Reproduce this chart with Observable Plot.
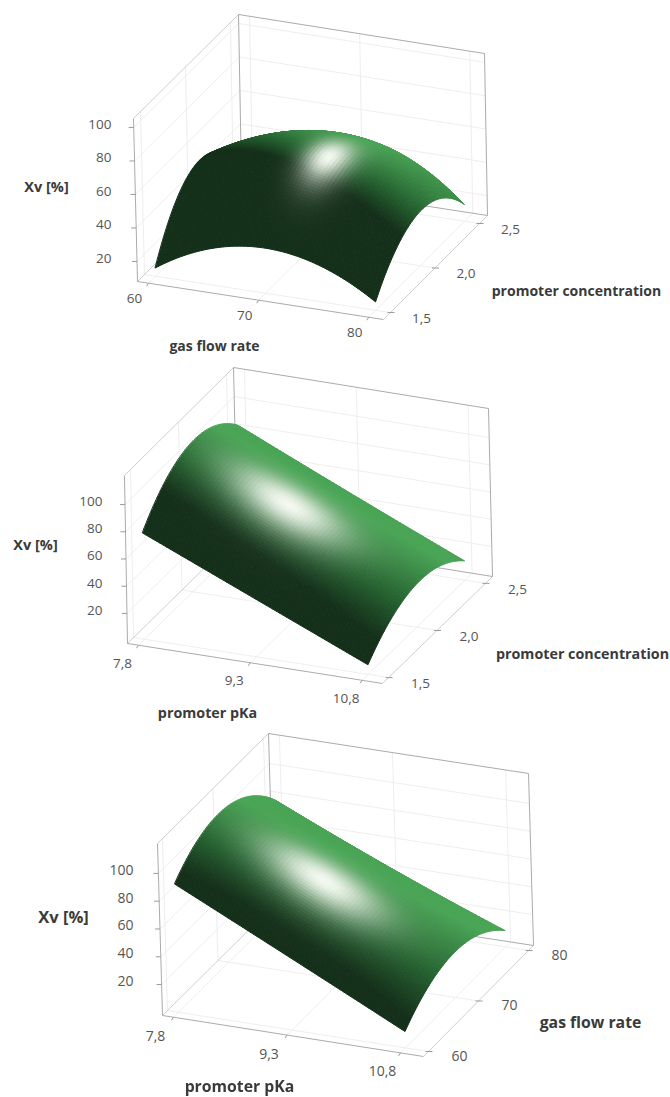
<!DOCTYPE html>
<html><head><meta charset="utf-8">
<script src="https://cdn.jsdelivr.net/npm/d3@7"></script>
<script src="https://cdn.jsdelivr.net/npm/@observablehq/plot@0.6"></script>
<style>html,body{margin:0;padding:0;background:#fff}svg{display:block;filter:blur(.3px)}</style>
</head><body><div id="chart"></div>
<script>
// ---- values ----
const gasFlowTicks = [60, 70, 80];
const concTicks = [1.5, 2.0, 2.5];
const pkaTicks = [7.8, 9.3, 10.8];
const xvTicks = [20, 40, 60, 80, 100];
const gasFlowLabels = ["60", "70", "80"];
const concLabels = ["1,5", "2,0", "2,5"];
const pkaLabels = ["7,8", "9,3", "10,8"];
// Xv [%] at the three levels of each factor: rows = depth axis, columns = front axis
const surfaceGasConc = [[13, 35, 13], [50, 66, 40], [17, 48, 18]];
const surfacePkaConc = [[76, 40.5, 5], [106, 68, 29], [85, 48, 12]];
const surfacePkaGas = [[90, 50, 9.5], [108, 71, 30], [78, 42, 9.5]];

// ---- view set-up of each cube ----
const views = [
 {aTicks: gasFlowTicks, bTicks: concTicks, aLabels: gasFlowLabels, bLabels: concLabels, surface: surfaceGasConc,
  aTitle: "gas flow rate", bTitle: "promoter concentration",
  box: {FBL:[137,281],FBR:[383,319],BBL:[241,177],BBR:[487,215],FTL:[133,118],FTR:[380,156],BTL:[238,14],BTR:[484,53]},
  aFrac:[.045,.94], bFrac:[.067,.923], zFrac:[.123,.945],
  aOff:[-14,15], bOff:[31,6], zLabelX:111, zOff:-3, zTick:5,
  xvAt:[46,187], aAt:[214,346], bAt:[576,291], xvSize:14.5, titleSize:14, tickSize:13.5,
  highlight:[328,157], sigmaD:.112, sigmaU:.06, lift:-.05},
 {aTicks: pkaTicks, bTicks: concTicks, aLabels: pkaLabels, bLabels: concLabels, surface: surfacePkaConc,
  aTitle: "promoter pKa", bTitle: "promoter concentration",
  box: {FBL:[127,643],FBR:[382,683],BBL:[237,535],BBR:[492,576],FTL:[124,475],FTR:[379,515],BTL:[233,367],BTR:[488,408]},
  aFrac:[.043,.92], bFrac:[.055,.936], zFrac:[.179,.827],
  aOff:[-16,18], bOff:[32,6], zLabelX:102, zOff:-3, zTick:5,
  xvAt:[35,545], aAt:[207,713], bAt:[582,654], xvSize:14.5, titleSize:14.3, tickSize:13.5,
  highlight:[288,506], sigmaD:.105, sigmaU:.15, lift:.03},
 {aTicks: pkaTicks, bTicks: gasFlowTicks, aLabels: pkaLabels, bLabels: gasFlowLabels, surface: surfacePkaGas,
  aTitle: "promoter pKa", bTitle: "gas flow rate",
  box: {FBL:[162,1015],FBR:[423,1056],BBL:[273,905],BBR:[533,945],FTL:[157,843],FTR:[418,884],BTL:[268,733],BTR:[528,773]},
  aFrac:[.042,.912], bFrac:[.045,.955], zFrac:[.18,.826],
  aOff:[-18,19], bOff:[31,5], zLabelX:133, zOff:-3, zTick:5,
  xvAt:[63,917], aAt:[239,1086], bAt:[590,1022], xvSize:16.5, titleSize:15.8, tickSize:14,
  highlight:[323,880], sigmaD:.1, sigmaU:.15, lift:.03}
];

const lerp = (p, q, t) => [p[0] + (q[0]-p[0])*t, p[1] + (q[1]-p[1])*t];
function cube(v, u, d, w) {
  const {FBL,FBR,BBL,BBR,FTL,FTR,BTL,BTR} = v.box;
  const bot = lerp(lerp(FBL,FBR,u), lerp(BBL,BBR,u), d);
  const top = lerp(lerp(FTL,FTR,u), lerp(BTL,BTR,u), d);
  return lerp(bot, top, w);
}
const uOf = (v, s) => v.aFrac[0] + (v.aFrac[1]-v.aFrac[0])*s;
const dOf = (v, t) => v.bFrac[0] + (v.bFrac[1]-v.bFrac[0])*t;
const wOf = (v, z) => v.zFrac[0] + (v.zFrac[1]-v.zFrac[0])*(z-20)/80;
const quad = (vals, t) => vals[0]*2*(t-.5)*(t-1) - vals[1]*4*t*(t-1) + vals[2]*2*t*(t-.5);
const zAt = (v, s, t) => quad(v.surface.map(r => quad(r, s)), t);
const unit = n => { const l = Math.hypot(...n); return n.map(c => c/l); };
const dot = (p, q) => p[0]*q[0] + p[1]*q[1] + p[2]*q[2];
function normalAt(v, s, t) {
  const h = 1e-3;
  const du = uOf(v,s+h)-uOf(v,s-h), dd = dOf(v,t+h)-dOf(v,t-h);
  const wu = (wOf(v,zAt(v,s+h,t))-wOf(v,zAt(v,s-h,t)))/du;
  const wd = (wOf(v,zAt(v,s,t+h))-wOf(v,zAt(v,s,t-h)))/dd;
  return unit([-wu, -wd, 1]);
}
const light = unit([.28, .62, .75]);
const ramp = d3.scaleLinear().domain([.42, .62, .95]).range(["#15301a", "#24602f", "#4aa556"]).clamp(true);
const N = 64;

function surfaceCells(v) {
  const P = (s, t) => cube(v, uOf(v,s), dOf(v,t), wOf(v, zAt(v,s,t)));
  let best = null, bestD = Infinity;
  for (let i = 0; i <= N; i++) for (let j = 0; j <= N; j++) {
    const s = i/N, t = j/N, p = P(s,t), q = P(Math.min(s+.01,1),t), r = P(s,Math.min(t+.01,1));
    const cross = (q[0]-p[0])*(r[1]-p[1]) - (q[1]-p[1])*(r[0]-p[0]);
    const dist = Math.hypot(p[0]-v.highlight[0], p[1]-v.highlight[1]);
    if (cross < 0 && dist < bestD) { bestD = dist; best = [s,t]; }
  }
  const u0 = uOf(v, best[0]), d0 = dOf(v, best[1]);
  const cells = [];
  for (let j = N-1; j >= 0; j--) for (let i = 0; i < N; i++) {
    const s = (i+.5)/N, t = (j+.5)/N, n = normalAt(v,s,t);
    const ru = (uOf(v,s)-u0)/v.sigmaU, rd = (dOf(v,t)-d0)/v.sigmaD;
    const spec = Math.exp(-(ru*ru + rd*rd)/2);
    const base = ramp(Math.max(0, dot(n, light)) + v.lift);
    const c = d3.interpolateRgb(base, "#f3f8ef")(spec);
    const a = P(i/N,j/N), b = P((i+1)/N,j/N), e = P((i+1)/N,(j+1)/N), f = P(i/N,(j+1)/N);
    cells.push({type:"Polygon", coordinates:[[a,b,e,f,a]], c});
  }
  return cells;
}

function seg(p, q, stroke) { return {x1:p[0], y1:p[1], x2:q[0], y2:q[1], stroke}; }
const gridC = "#eeeeee", lightC = "#cfcfcf", boxC = "#ababab", tickC = "#9a9a9a";
let gridLines = [], boxLines = [], tickLines = [], tickText = [], titles = [], cells = [];
for (const v of views) {
  const {FBL,FBR,BBL,BBR,FTL,FTR,BTL,BTR} = v.box;
  const aF = v.aTicks.map((_, i) => v.aFrac[0] + (v.aFrac[1]-v.aFrac[0])*i/(v.aTicks.length-1));
  const bF = v.bTicks.map((_, i) => v.bFrac[0] + (v.bFrac[1]-v.bFrac[0])*i/(v.bTicks.length-1));
  const zF = xvTicks.map(z => wOf(v, z));
  for (const u of aF) {
    gridLines.push(seg(cube(v,u,0,0), cube(v,u,1,0), gridC), seg(cube(v,u,1,0), cube(v,u,1,1), gridC));
  }
  for (const d of bF) {
    gridLines.push(seg(cube(v,0,d,0), cube(v,1,d,0), gridC), seg(cube(v,0,d,0), cube(v,0,d,1), gridC));
  }
  for (const w of zF) {
    gridLines.push(seg(cube(v,0,0,w), cube(v,0,1,w), gridC), seg(cube(v,0,1,w), cube(v,1,1,w), gridC));
  }
  boxLines.push(seg(BTL,FTL,lightC), seg(FBL,BBL,lightC), seg(BTL,BTR,boxC), seg(BTL,BBL,boxC), seg(FTL,FBL,boxC),
                seg(FBL,FBR,boxC), seg(FBR,BBR,lightC), seg(BTR,BBR,boxC), seg(BBL,BBR,boxC));
  aF.forEach((u, i) => {
    const p = cube(v,u,0,0);
    tickLines.push(seg(p, [p[0]-2, p[1]+3], tickC));
    tickText.push({x:p[0]+v.aOff[0], y:p[1]+v.aOff[1], text:v.aLabels[i], size:v.tickSize, anchor:"middle"});
  });
  bF.forEach((d, i) => {
    const p = cube(v,1,d,0);
    tickLines.push(seg([p[0]-3,p[1]], [p[0]+4, p[1]], tickC));
    tickText.push({x:p[0]+v.bOff[0], y:p[1]+v.bOff[1], text:v.bLabels[i], size:v.tickSize, anchor:"middle"});
  });
  zF.forEach((w, i) => {
    const p = cube(v,0,0,w);
    tickLines.push(seg([p[0]-v.zTick,p[1]], p, tickC));
    tickText.push({x:v.zLabelX, y:p[1]+v.zOff, text:String(xvTicks[i]), size:v.tickSize, anchor:"end"});
  });
  titles.push({x:v.xvAt[0], y:v.xvAt[1], text:"Xv [%]", size:v.xvSize},
              {x:v.aAt[0], y:v.aAt[1], text:v.aTitle, size:v.titleSize},
              {x:v.bAt[0], y:v.bAt[1], text:v.bTitle, size:v.titleSize});
  cells = cells.concat(surfaceCells(v));
}
const ff = "Open Sans, Noto Sans, sans-serif";
const textMark = (rows, anchor, weight, fill) => Plot.text(rows, {x:"x", y:"y", text:"text", fontSize:d=>d.size,
   textAnchor:anchor, lineAnchor:"middle", fontWeight:weight, fill, fontFamily:ff});
const link = rows => Plot.link(rows, {x1:"x1", y1:"y1", x2:"x2", y2:"y2", stroke:"stroke", strokeWidth:1, markerEnd:"none"});

const chart = Plot.plot({
  width: 670, height: 1097, margin: 0,
  style: {background:"#fff", overflow:"visible"},
  x: {domain:[0,670], range:[0,670], axis:null},
  y: {domain:[0,1097], range:[0,1097], axis:null},
  color: {type:"identity"},
  marks: [
    link(gridLines),
    link(boxLines),
    Plot.geo(cells, {fill:d=>d.c, stroke:d=>d.c, strokeWidth:1}),
    link(tickLines),
    textMark(tickText.filter(d=>d.anchor==="middle"), "middle", 400, "#555"),
    textMark(tickText.filter(d=>d.anchor==="end"), "end", 400, "#555"),
    textMark(titles, "middle", 700, "#3a3a3a")
  ]
});
document.getElementById("chart").append(chart);
</script></body></html>
